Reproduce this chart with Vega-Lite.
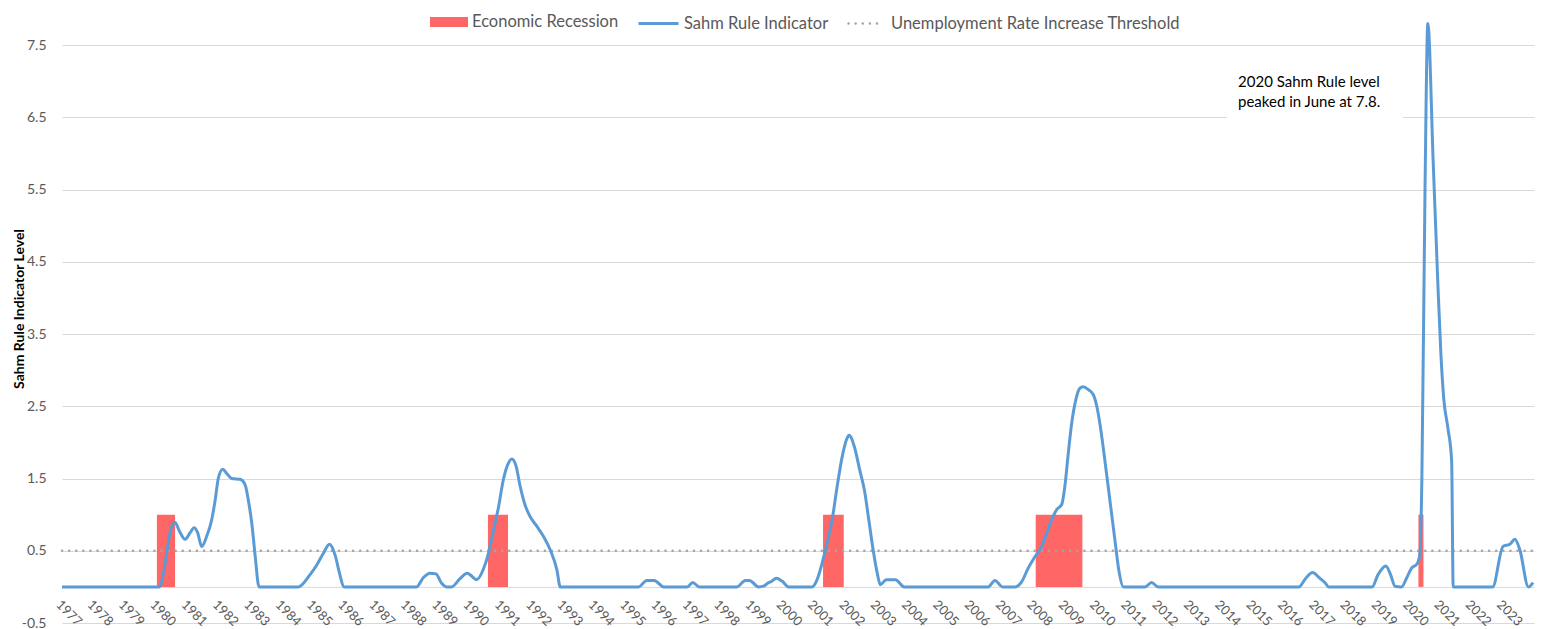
{
  "$schema": "https://vega.github.io/schema/vega-lite/v6.json",
  "width": 1472,
  "height": 601,
  "autosize": {"type": "none"},
  "padding": {"left": 62, "top": 22, "right": 12, "bottom": 6},
  "background": "white",
  "config": {
    "font": "Lato",
    "view": {"stroke": null},
    "axis": {"labelFont": "Lato", "titleFont": "Lato"},
    "axisX": {"labelOverlap": false},
    "axisY": {"labelOverlap": false},
    "legend": {"labelFont": "Lato", "padding": 0, "labelLimit": 500}
  },
  "encoding": {
    "x": {"field": "t", "type": "quantitative", "title": null,
      "scale": {"domain": [1977, 2024], "nice": false, "zero": false},
      "axis": {
        "values": [1977,1978,1979,1980,1981,1982,1983,1984,1985,1986,1987,1988,1989,1990,1991,1992,1993,1994,1995,1996,1997,1998,1999,2000,2001,2002,2003,2004,2005,2006,2007,2008,2009,2010,2011,2012,2013,2014,2015,2016,2017,2018,2019,2020,2021,2022,2023],
        "format": "d", "labelAngle": 45, "labelAlign": "left", "labelBaseline": "top",
        "labelFontSize": 13, "labelColor": "#595959", "ticks": false, "grid": false,
        "domain": true, "domainColor": "#D9D9D9", "domainWidth": 1, "offset": -36.1,
        "labelPadding": 11, "labelFlush": false, "labelOverlap": false, "labelSeparation": 0, "labelBound": false, "zindex": 0
      }},
    "y": {"field": "v", "type": "quantitative", "title": "Sahm Rule Indicator Level",
      "scale": {"domain": [-0.5, 7.82], "nice": false, "zero": false},
      "axis": {
        "values": [-0.5, 0.5, 1.5, 2.5, 3.5, 4.5, 5.5, 6.5, 7.5],
        "labelExpr": "replace(format(datum.value, '.1f'), '\u2212', '-')",
        "grid": true, "gridColor": "#D9D9D9", "gridWidth": 1, "domain": false, "ticks": false,
        "labelFontSize": 14, "labelColor": "#595959", "labelPadding": 16, "labelOverlap": false,
        "titleFontSize": 14, "titleFontWeight": "bold", "titleColor": "#000000",
        "titleAngle": -90, "titleX": -39, "titleY": 286.5, "titleAlign": "center", "titleBaseline": "alphabetic",
        "zindex": 0
      }}
  },
  "layer": [
    {
      "data": {"values": [
        {"t": 1980.03, "t2": 1980.61, "v": 0, "v2": 1},
        {"t": 1990.60, "t2": 1991.24, "v": 0, "v2": 1},
        {"t": 2001.30, "t2": 2001.96, "v": 0, "v2": 1},
        {"t": 2008.09, "t2": 2009.58, "v": 0, "v2": 1},
        {"t": 2020.31, "t2": 2020.47, "v": 0, "v2": 1}
      ]},
      "mark": {"type": "rect"},
      "encoding": {
        "x2": {"field": "t2"},
        "y2": {"field": "v2"},
        "fill": {"datum": "Economic Recession", "type": "nominal",
          "scale": {"range": ["#FF6666"]},
          "legend": {"title": null, "orient": "none", "legendX": 368, "legendY": -19, "direction": "horizontal",
            "symbolType": "M-1,-0.263H1V0.263H-1Z", "symbolSize": 1444, "symbolStrokeWidth": 0,
            "labelFontSize": 16.5, "labelColor": "#595959", "labelOffset": 4}}
      }
    },
    {
      "data": {"values": [{"t": 1977, "t2": 2024, "v": 0.5}]},
      "mark": {"type": "rule", "strokeWidth": 2.5, "strokeCap": "round", "color": "#A5A5A5"},
      "encoding": {
        "x2": {"field": "t2"},
        "strokeDash": {"datum": "Unemployment Rate Increase Threshold", "type": "nominal",
          "scale": {"range": [[0.1, 7]]},
          "legend": {"title": null, "orient": "none", "legendX": 785, "legendY": -17.5, "direction": "horizontal",
            "symbolType": "stroke", "symbolSize": 1225, "symbolStrokeWidth": 2.5, "symbolStrokeColor": "#A5A5A5",
            "labelFontSize": 16.5, "labelColor": "#595959", "labelOffset": 6, "labelLimit": 500,
            "encode": {"symbols": {"update": {"strokeCap": {"value": "round"}}}}}}
      }
    },
    {
      "data": {"values": [
        {"t": 1977.00, "v": 0}, {"t": 1980.11, "v": 0}, {"t": 1980.24, "v": 0.19}, {"t": 1980.35, "v": 0.49},
        {"t": 1980.47, "v": 0.79}, {"t": 1980.61, "v": 0.89}, {"t": 1980.75, "v": 0.77}, {"t": 1980.93, "v": 0.66},
        {"t": 1981.09, "v": 0.75}, {"t": 1981.22, "v": 0.82}, {"t": 1981.33, "v": 0.75}, {"t": 1981.46, "v": 0.56},
        {"t": 1981.62, "v": 0.70}, {"t": 1981.78, "v": 0.93}, {"t": 1981.89, "v": 1.20}, {"t": 1981.99, "v": 1.50},
        {"t": 1982.13, "v": 1.63}, {"t": 1982.26, "v": 1.57}, {"t": 1982.42, "v": 1.50}, {"t": 1982.69, "v": 1.49},
        {"t": 1982.85, "v": 1.41}, {"t": 1982.95, "v": 1.20}, {"t": 1983.06, "v": 0.88}, {"t": 1983.17, "v": 0.42},
        {"t": 1983.29, "v": 0}, {"t": 1984.55, "v": 0}, {"t": 1984.92, "v": 0.17}, {"t": 1985.13, "v": 0.30},
        {"t": 1985.35, "v": 0.47}, {"t": 1985.54, "v": 0.59}, {"t": 1985.72, "v": 0.44}, {"t": 1985.86, "v": 0.19},
        {"t": 1986.00, "v": 0}, {"t": 1988.32, "v": 0}, {"t": 1988.54, "v": 0.13}, {"t": 1988.75, "v": 0.19},
        {"t": 1988.94, "v": 0.18}, {"t": 1989.12, "v": 0.05}, {"t": 1989.28, "v": 0}, {"t": 1989.44, "v": 0},
        {"t": 1989.70, "v": 0.11}, {"t": 1989.94, "v": 0.19}, {"t": 1990.24, "v": 0.10}, {"t": 1990.45, "v": 0.24},
        {"t": 1990.62, "v": 0.47}, {"t": 1990.78, "v": 0.79}, {"t": 1990.94, "v": 1.11}, {"t": 1991.09, "v": 1.48},
        {"t": 1991.25, "v": 1.71}, {"t": 1991.36, "v": 1.77}, {"t": 1991.50, "v": 1.67}, {"t": 1991.62, "v": 1.41},
        {"t": 1991.78, "v": 1.14}, {"t": 1991.95, "v": 0.97}, {"t": 1992.16, "v": 0.84}, {"t": 1992.37, "v": 0.70},
        {"t": 1992.59, "v": 0.51}, {"t": 1992.80, "v": 0.24}, {"t": 1992.91, "v": 0}, {"t": 1995.41, "v": 0},
        {"t": 1995.67, "v": 0.09}, {"t": 1995.91, "v": 0.09}, {"t": 1996.21, "v": 0}, {"t": 1996.96, "v": 0},
        {"t": 1997.14, "v": 0.06}, {"t": 1997.35, "v": 0}, {"t": 1998.55, "v": 0}, {"t": 1998.82, "v": 0.09},
        {"t": 1998.95, "v": 0.09}, {"t": 1999.24, "v": 0}, {"t": 1999.40, "v": 0.01}, {"t": 1999.56, "v": 0.06},
        {"t": 1999.63, "v": 0.07}, {"t": 1999.81, "v": 0.12}, {"t": 1999.99, "v": 0.08}, {"t": 2000.20, "v": 0},
        {"t": 2000.95, "v": 0}, {"t": 2001.11, "v": 0.10}, {"t": 2001.27, "v": 0.33}, {"t": 2001.43, "v": 0.61},
        {"t": 2001.59, "v": 0.93}, {"t": 2001.75, "v": 1.39}, {"t": 2001.91, "v": 1.80}, {"t": 2002.05, "v": 2.04},
        {"t": 2002.13, "v": 2.10}, {"t": 2002.30, "v": 1.94}, {"t": 2002.47, "v": 1.62}, {"t": 2002.62, "v": 1.34},
        {"t": 2002.76, "v": 0.93}, {"t": 2002.90, "v": 0.51}, {"t": 2003.03, "v": 0.19}, {"t": 2003.13, "v": 0.03},
        {"t": 2003.32, "v": 0.10}, {"t": 2003.61, "v": 0.10}, {"t": 2003.89, "v": 0}, {"t": 2006.57, "v": 0},
        {"t": 2006.79, "v": 0.09}, {"t": 2007.03, "v": 0}, {"t": 2007.43, "v": 0}, {"t": 2007.64, "v": 0.07},
        {"t": 2007.85, "v": 0.26}, {"t": 2008.07, "v": 0.42}, {"t": 2008.28, "v": 0.56}, {"t": 2008.44, "v": 0.74},
        {"t": 2008.60, "v": 0.93}, {"t": 2008.76, "v": 1.07}, {"t": 2008.92, "v": 1.14}, {"t": 2009.02, "v": 1.39},
        {"t": 2009.13, "v": 1.85}, {"t": 2009.24, "v": 2.27}, {"t": 2009.37, "v": 2.59}, {"t": 2009.50, "v": 2.75},
        {"t": 2009.61, "v": 2.77}, {"t": 2009.77, "v": 2.73}, {"t": 2009.93, "v": 2.66}, {"t": 2010.04, "v": 2.50},
        {"t": 2010.17, "v": 2.17}, {"t": 2010.31, "v": 1.71}, {"t": 2010.47, "v": 1.16}, {"t": 2010.63, "v": 0.61},
        {"t": 2010.74, "v": 0.24}, {"t": 2010.89, "v": 0}, {"t": 2011.58, "v": 0}, {"t": 2011.79, "v": 0.06},
        {"t": 2012.00, "v": 0}, {"t": 2016.50, "v": 0}, {"t": 2016.68, "v": 0.10}, {"t": 2016.93, "v": 0.20},
        {"t": 2017.16, "v": 0.12}, {"t": 2017.32, "v": 0.06}, {"t": 2017.45, "v": 0}, {"t": 2018.83, "v": 0},
        {"t": 2019.02, "v": 0.17}, {"t": 2019.27, "v": 0.29}, {"t": 2019.42, "v": 0.17}, {"t": 2019.56, "v": 0.01},
        {"t": 2019.77, "v": 0}, {"t": 2019.93, "v": 0.12}, {"t": 2020.09, "v": 0.26}, {"t": 2020.27, "v": 0.32},
        {"t": 2020.36, "v": 0.47}, {"t": 2020.42, "v": 1.5}, {"t": 2020.52, "v": 5.5}, {"t": 2020.61, "v": 7.8},
        {"t": 2020.78, "v": 5.9}, {"t": 2020.93, "v": 4.2}, {"t": 2021.03, "v": 3.2}, {"t": 2021.12, "v": 2.6},
        {"t": 2021.25, "v": 2.2}, {"t": 2021.37, "v": 1.75}, {"t": 2021.42, "v": 0}, {"t": 2022.68, "v": 0},
        {"t": 2023.01, "v": 0.56}, {"t": 2023.23, "v": 0.59}, {"t": 2023.39, "v": 0.66}, {"t": 2023.55, "v": 0.51},
        {"t": 2023.82, "v": 0}, {"t": 2023.97, "v": 0.06}
      ]},
      "mark": {"type": "line", "interpolate": "monotone", "strokeWidth": 3, "strokeJoin": "round"},
      "encoding": {
        "stroke": {"datum": "Sahm Rule Indicator", "type": "nominal",
          "scale": {"range": ["#5B9BD5"]},
          "legend": {"title": null, "orient": "none", "legendX": 575, "legendY": -20, "direction": "horizontal",
            "symbolType": "stroke", "symbolSize": 1600, "symbolStrokeWidth": 3,
            "labelFontSize": 16.5, "labelColor": "#595959", "labelOffset": 4}}
      }
    },
    {
      "data": {"values": [{"t": 2014.2, "t2": 2019.82, "v": 6.35, "v2": 7.2}]},
      "mark": {"type": "rect", "fill": "white"},
      "encoding": {
        "x2": {"field": "t2"},
        "y2": {"field": "v2"}
      }
    },
    {
      "data": {"values": [
        {"t": 2014.55, "v": 6.92, "label": "2020 Sahm Rule level"},
        {"t": 2014.55, "v": 6.64, "label": "peaked in June at 7.8."}
      ]},
      "mark": {"type": "text", "align": "left", "baseline": "alphabetic", "fontSize": 15, "font": "Lato", "color": "#000000"},
      "encoding": {
        "text": {"field": "label"}
      }
    }
  ]
}
